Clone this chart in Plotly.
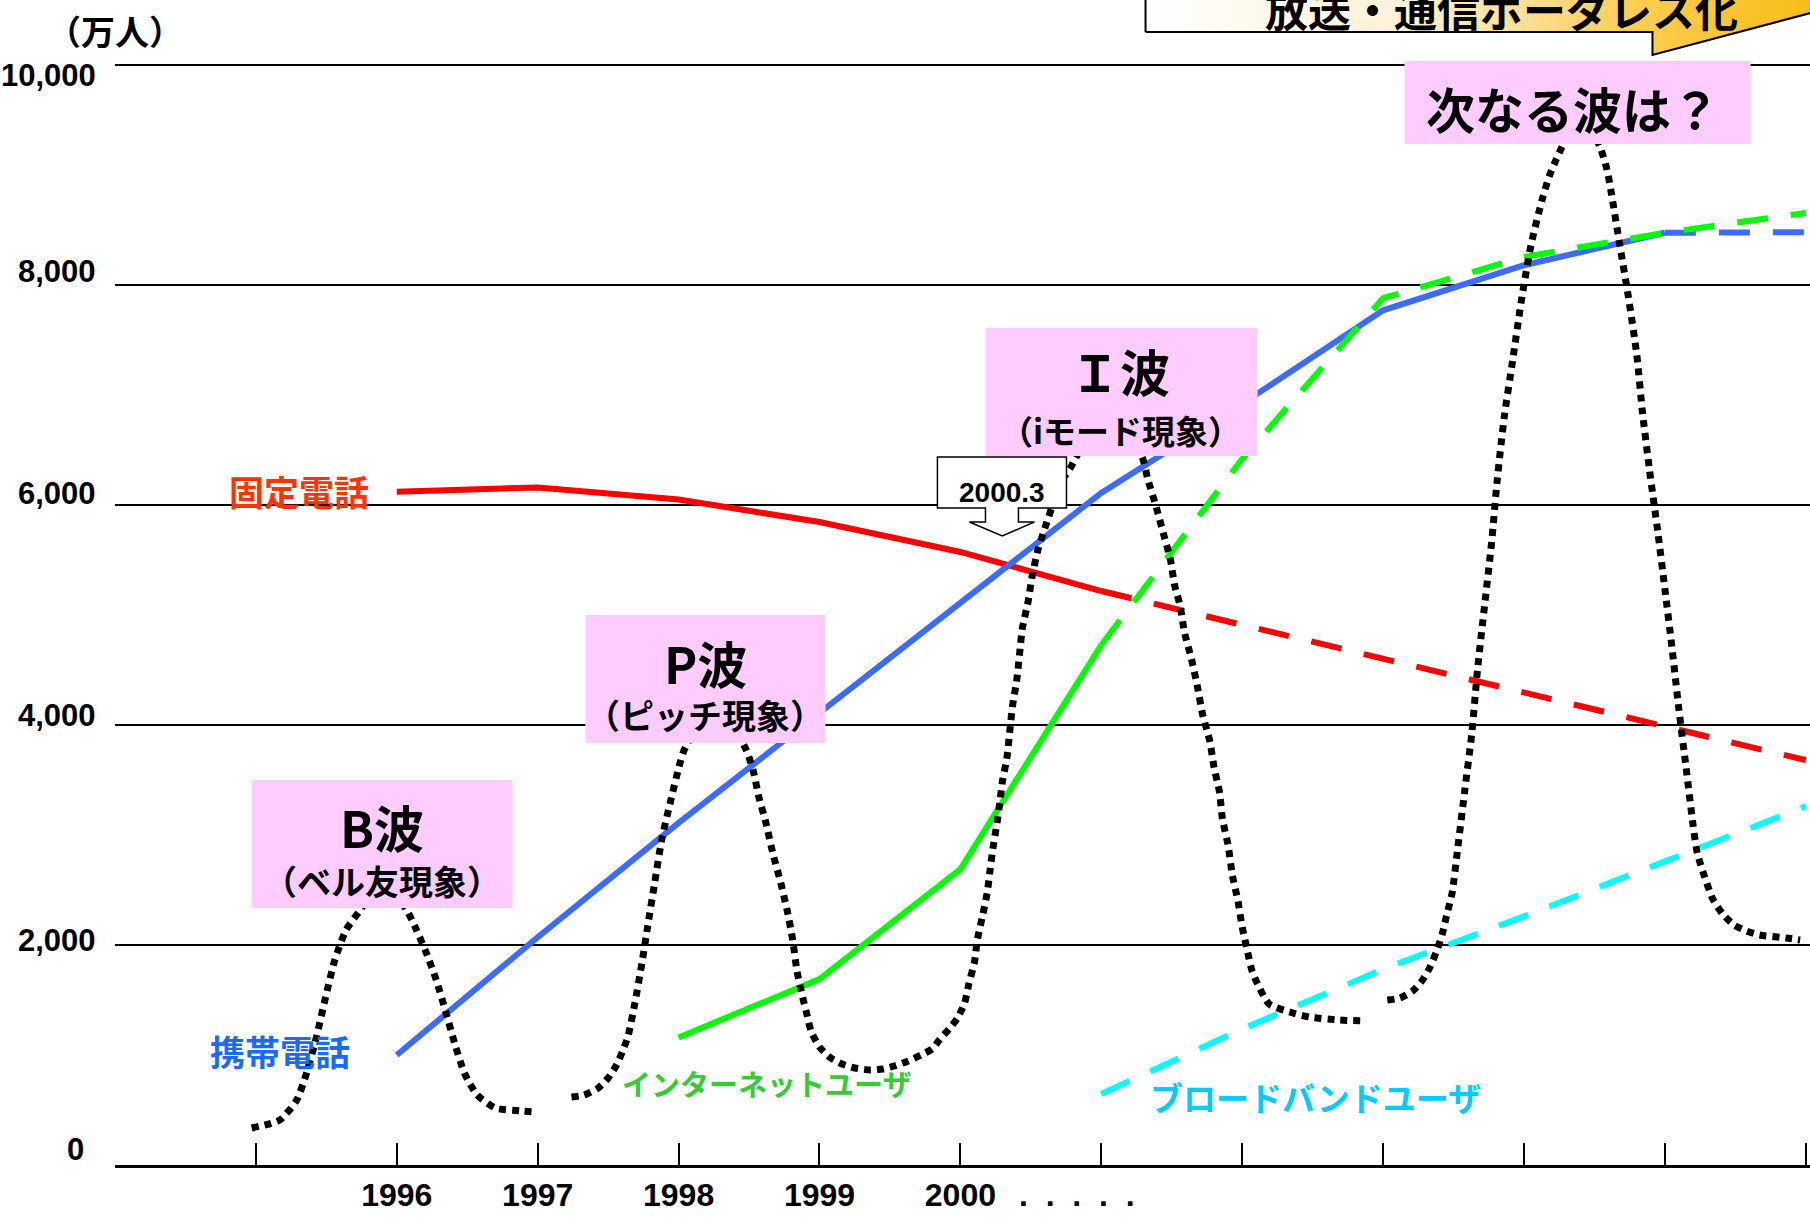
import plotly.graph_objects as go

# ---------------- data ----------------
fixed_years = [1996, 1997, 1998, 1999, 2000, 2001]
fixed_vals = [6120, 6160, 6050, 5845, 5573, 5218]
fixed_proj_years = [2001, 2006]
fixed_proj_vals = [5218, 3680]

mobile_years = [1996, 1997, 1998, 1999, 2000, 2001, 2002, 2003, 2004, 2005]
mobile_vals = [1000, 2070, 3110, 4110, 5100, 6110, 6920, 7770, 8180, 8475]
mobile_proj_years = [2005, 2006]
mobile_proj_vals = [8475, 8480]

net_years = [1998, 1999, 2000, 2001]
net_vals = [1160, 1690, 2690, 4727]
net_proj_years = [2001, 2002, 2003, 2004, 2005, 2006]
net_proj_vals = [4727, 6420, 7880, 8255, 8475, 8655]

bb_years = [2001, 2002, 2003, 2004, 2005, 2006]
bb_vals = [645, 1236, 1780, 2260, 2760, 3260]

# dotted "wave" curves (B wave, P+I waves, next wave)
wave1_x = [1994.97, 1995.17, 1995.29, 1995.36, 1995.43, 1995.49, 1995.56, 1995.64, 1995.74,
           1995.90, 1996.07, 1996.14, 1996.21, 1996.28, 1996.35, 1996.41, 1996.48, 1996.57,
           1996.70, 1996.89, 1996.99]
wave1_y = [336, 409, 591, 836, 1164, 1500, 1864, 2136, 2318,
           2590, 2318, 2136, 1927, 1682, 1382, 1109, 836, 636,
           518, 491, 482]

wave2_x = [1997.24, 1997.33, 1997.43, 1997.50, 1997.56, 1997.60, 1997.64, 1997.69, 1997.74,
           1997.78, 1997.83, 1997.88, 1997.94, 1998.01, 1998.04, 1998.26, 1998.48, 1998.53,
           1998.57, 1998.62, 1998.67, 1998.72, 1998.77, 1998.81, 1998.84, 1998.88, 1998.91,
           1998.94, 1999.00, 1999.07, 1999.16, 1999.25, 1999.36, 1999.45, 1999.53, 1999.63,
           1999.72, 1999.80, 1999.85, 1999.92, 1999.98, 2000.03, 2000.06, 2000.10, 2000.12,
           2000.16, 2000.19, 2000.21, 2000.23, 2000.26, 2000.28, 2000.30, 2000.33, 2000.35,
           2000.37, 2000.40, 2000.42, 2000.44, 2000.48, 2000.51, 2000.55, 2000.60, 2000.65,
           2000.70, 2000.78, 2000.85, 2001.06, 2001.29, 2001.33, 2001.39, 2001.44, 2001.49,
           2001.52, 2001.56, 2001.59, 2001.64, 2001.68, 2001.72, 2001.77, 2001.80, 2001.84,
           2001.86, 2001.90, 2001.93, 2001.97, 2002.00, 2002.04, 2002.07, 2002.11, 2002.19,
           2002.36, 2002.48, 2002.69, 2002.88]
wave2_y = [618, 636, 700, 791, 909, 1027, 1164, 1473, 1836,
           2164, 2564, 2955, 3291, 3655, 3773, 4227, 3773, 3582,
           3345, 3109, 2827, 2591, 2318, 2045, 1764, 1527, 1373,
           1218, 1073, 982, 918, 882, 864, 873, 900, 945,
           1000, 1055, 1136, 1236, 1336, 1473, 1645, 1845, 2045,
           2282, 2473, 2673, 2873, 3109, 3300, 3500, 3700, 3936,
           4173, 4409, 4645, 4882, 5118, 5355, 5591, 5791, 5982,
           6182, 6336, 6500, 6864, 6436, 6236, 5982, 5745, 5509,
           5273, 5082, 4845, 4600, 4364, 4091, 3855, 3618, 3382,
           3145, 2909, 2636, 2400, 2164, 1927, 1764, 1645, 1464,
           1382, 1345, 1318, 1309]

wave3_x = [2003.03, 2003.12, 2003.21, 2003.28, 2003.33, 2003.38, 2003.42, 2003.45, 2003.49,
           2003.53, 2003.58, 2003.63, 2003.67, 2003.72, 2003.77, 2003.81, 2003.86, 2003.92,
           2003.98, 2004.05, 2004.13, 2004.18, 2004.23, 2004.27, 2004.41, 2004.54, 2004.59,
           2004.62, 2004.68, 2004.74, 2004.80, 2004.84, 2004.89, 2004.95, 2005.00, 2005.05,
           2005.10, 2005.15, 2005.20, 2005.23, 2005.28, 2005.34, 2005.41, 2005.49, 2005.58,
           2005.67, 2005.86, 2005.96]
wave3_y = [1500, 1518, 1582, 1682, 1791, 1945, 2100, 2264, 2473,
           2882, 3409, 3927, 4500, 5082, 5655, 6227, 6800, 7318,
           7845, 8364, 8782, 8991, 9145, 9255, 9573, 9255, 9045,
           8836, 8364, 7900, 7373, 6855, 6327, 5755, 5236, 4709,
           4136, 3618, 3091, 2836, 2627, 2418, 2282, 2182, 2127,
           2091, 2064, 2045]

y_tick_vals = [10000, 8000, 6000, 4000, 2000, 0]
y_tick_text = ["10,000", "8,000", "6,000", "4,000", "2,000", "0"]
x_tick_vals = list(range(1994, 2007))
x_tick_text = ["", "", "1996", "1997", "1998", "1999", "2000", "", "", "", "", "", ""]

# ---------------- styling ----------------
NUM_FONT = "Liberation Sans, Arial, sans-serif"
JP_FONT = "Noto Sans CJK JP, sans-serif"
RED = "#FF0000"
BLUE = "#3D6BFF"
GREEN = "#00FF00"
CYAN = "#00FFFF"
PINK = "#FFCCFF"
DASH = "31px,23px"

fig = go.Figure()

# banner arrow (gradient) at the top
banner_x = [2001.314, 2004.912, 2004.912, 2006.54, 2004.912, 2004.912, 2001.314, 2001.314]
banner_y = [10300, 10300, 10091, 10645, 11400, 11000, 11000, 10300]
fig.add_trace(go.Scatter(
    x=banner_x, y=banner_y, mode="lines", fill="toself",
    line=dict(color="black", width=2),
    fillgradient=dict(type="horizontal",
                      colorscale=[[0, "#FFFFFF"], [0.35, "#FFF1D6"], [0.68, "#FDCC4C"], [1, "#F5B700"]]),
    hoverinfo="skip", showlegend=False))

fig.add_trace(go.Scatter(x=fixed_years, y=fixed_vals, mode="lines",
                         line=dict(color=RED, width=6), showlegend=False))
fig.add_trace(go.Scatter(x=fixed_proj_years, y=fixed_proj_vals, mode="lines",
                         line=dict(color=RED, width=6, dash=DASH), showlegend=False))
fig.add_trace(go.Scatter(x=mobile_years, y=mobile_vals, mode="lines",
                         line=dict(color=BLUE, width=6), showlegend=False))
fig.add_trace(go.Scatter(x=mobile_proj_years, y=mobile_proj_vals, mode="lines",
                         line=dict(color=BLUE, width=6, dash=DASH), showlegend=False))
fig.add_trace(go.Scatter(x=net_years, y=net_vals, mode="lines",
                         line=dict(color=GREEN, width=6), showlegend=False))
fig.add_trace(go.Scatter(x=net_proj_years, y=net_proj_vals, mode="lines",
                         line=dict(color=GREEN, width=6, dash=DASH), showlegend=False))
fig.add_trace(go.Scatter(x=bb_years, y=bb_vals, mode="lines",
                         line=dict(color=CYAN, width=6, dash=DASH), showlegend=False))

for wx, wy in [(wave1_x, wave1_y), (wave2_x, wave2_y), (wave3_x, wave3_y)]:
    fig.add_trace(go.Scatter(x=wx, y=wy, mode="lines",
                             line=dict(color="black", width=7, dash="7px,6px",
                                       shape="spline", smoothing=0.6),
                             showlegend=False))

shapes = []
# pink wave boxes
for (x0, x1, y0, y1) in [(1994.969, 1996.822, 2336, 3500),
                         (1997.339, 1999.043, 3836, 5000),
                         (2000.179, 2002.109, 6445, 7609),
                         (2003.152, 2005.608, 9282, 10036)]:
    shapes.append(dict(type="rect", xref="x", yref="y", x0=x0, x1=x1, y0=y0, y1=y1,
                       fillcolor=PINK, line=dict(width=0), layer="above"))

# 2000.3 down-arrow callout
cx0, cx1, cyt, cyb = 1999.837, 2000.753, 6436, 5973
s0, s1, ys = 2000.178, 2000.412, 5845
h0, h1, tipx, tipy = 2000.064, 2000.525, 2000.297, 5718
path = (f"M {cx0},{cyt} L {cx1},{cyt} L {cx1},{cyb} L {s1},{cyb} L {s1},{ys} L {h1},{ys} "
        f"L {tipx},{tipy} L {h0},{ys} L {s0},{ys} L {s0},{cyb} L {cx0},{cyb} Z")
shapes.append(dict(type="path", xref="x", yref="y", path=path, fillcolor="white",
                   line=dict(color="black", width=1.5), layer="above"))

annotations = []
# y tick labels (placed beside each gridline)
y_shift = [-10, 14, 12, 10, 5, 16]
x_shift = [-17, -17, -17, -17, -17, -29]
for v, t, dy, dx in zip(y_tick_vals, y_tick_text, y_shift, x_shift):
    annotations.append(dict(x=0, xref="paper", y=v, yref="y", text=t, showarrow=False,
                            xanchor="right", yanchor="middle", xshift=dx, yshift=dy,
                            font=dict(family=NUM_FONT, size=31, color="black", weight="bold")))

def jp(x, y, text, size, color="black", bold=True):
    annotations.append(dict(x=x, y=y, xref="x", yref="y", text=text, showarrow=False,
                            xanchor="center", yanchor="middle",
                            font=dict(family=JP_FONT, size=size, color=color,
                                      weight="bold" if bold else "normal")))

jp(1995.892, 3082, "B波", 50)
jp(1995.892, 2582, "（ベル友現象）", 34)
jp(1998.19, 4573, "P波", 50)
jp(1998.19, 4095, "（ピッチ現象）", 34)
jp(2001.136, 7227, "Ｉ波", 50)
jp(2001.136, 6682, "（iモード現象）", 33)
jp(2004.345, 9618, "次なる波は？", 49)
jp(2003.84, 10518, "放送・通信ボーダレス化", 43)

jp(1995.303, 6136, "固定電話", 35, "#FF3300")
jp(1995.17, 1045, "携帯電話", 35, "#1A6AFF")
jp(1998.625, 745, "インターネットユーザ", 29, "#33CC33")
jp(2002.52, 618, "ブロードバンドユーザ", 33, "#00CCFF")

annotations.append(dict(x=0, xref="paper", y=10310, yref="y", text="（万人）",
                        showarrow=False, xanchor="center", yanchor="middle",
                        font=dict(family=JP_FONT, size=34, color="black", weight="bold")))
annotations.append(dict(x=2000.297, y=6118, xref="x", yref="y", text="2000.3", showarrow=False,
                        xanchor="center", yanchor="middle",
                        font=dict(family=NUM_FONT, size=28, color="black", weight="bold")))
annotations.append(dict(x=2000.83, xref="x", y=-273 / 10591, yref="paper",
                        text=".\u00a0\u00a0.\u00a0\u00a0.\u00a0\u00a0.\u00a0\u00a0.",
                        showarrow=False, xanchor="center", yanchor="middle",
                        font=dict(family=NUM_FONT, size=32, color="black", weight="bold")))

fig.update_layout(
    width=1810, height=1218,
    margin=dict(l=115, r=0, t=0, b=53, pad=0),
    paper_bgcolor="white", plot_bgcolor="white",
    showlegend=False,
    shapes=shapes, annotations=annotations,
    xaxis=dict(range=[1994, 2006.03], tickvals=x_tick_vals, ticktext=x_tick_text,
               showgrid=False, zeroline=False,
               showline=True, linecolor="black", linewidth=3,
               ticks="inside", ticklen=22, tickwidth=2, tickcolor="black",
               tickfont=dict(family=NUM_FONT, size=32, color="black", weight="bold"),
               ticklabelstandoff=0, fixedrange=True),
    yaxis=dict(range=[0, 10591], tickvals=y_tick_vals, showticklabels=False,
               showgrid=True, gridcolor="black", gridwidth=2,
               zeroline=False, showline=False, ticks="", fixedrange=True),
)

fig.write_html("out.html")
